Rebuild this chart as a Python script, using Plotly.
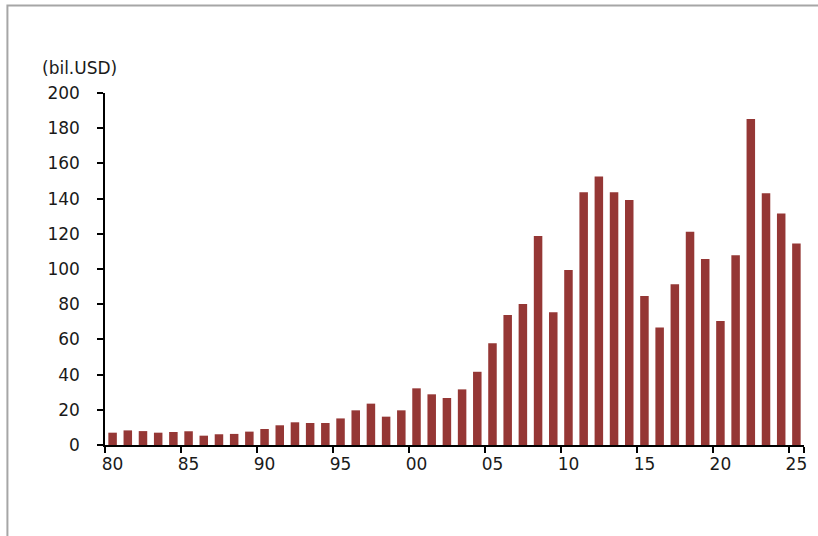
import plotly.graph_objects as go

years = ["80", "81", "82", "83", "84", "85", "86", "87", "88", "89",
         "90", "91", "92", "93", "94", "95", "96", "97", "98", "99",
         "00", "01", "02", "03", "04", "05", "06", "07", "08", "09",
         "10", "11", "12", "13", "14", "15", "16", "17", "18", "19",
         "20", "21", "22", "23", "24", "25"]
values = [7.0, 8.3, 7.9, 7.0, 7.4, 7.8, 5.3, 6.1, 6.3, 7.6,
          9.1, 11.2, 12.9, 12.5, 12.5, 15.1, 19.7, 23.5, 16.1, 19.7,
          32.2, 28.8, 26.7, 31.6, 41.6, 57.8, 73.9, 80.1, 118.8, 75.4,
          99.4, 143.6, 152.5, 143.6, 139.2, 84.7, 66.7, 91.3, 121.2, 105.7,
          70.5, 107.8, 185.2, 143.0, 131.6, 114.5]
tick_labels = ["80", "85", "90", "95", "00", "05", "10", "15", "20", "25"]
y_ticks = [0, 20, 40, 60, 80, 100, 120, 140, 160, 180, 200]
unit_label = "(bil.USD)"

bar_color = "#953735"
text_color = "#1a1a1a"
font_family = "DejaVu Sans, Arial, sans-serif"
font_size = 17

fig = go.Figure(go.Bar(x=years, y=values, marker=dict(color=bar_color, line=dict(width=0)),
                       hoverinfo="skip"))

fig.update_layout(
    width=818, height=536,
    margin=dict(l=105, r=11, t=93, b=91),
    paper_bgcolor="white", plot_bgcolor="white",
    bargap=0.44,
    showlegend=False,
    font=dict(family=font_family, size=font_size, color=text_color),
)
fig.update_xaxes(
    type="category",
    categoryorder="array", categoryarray=years,
    tickmode="array", tickvals=tick_labels, ticktext=tick_labels,
    tickson="boundaries", tickangle=0,
    ticks="outside", ticklen=6, tickwidth=1.5, tickcolor="black",
    showline=True, linecolor="black", linewidth=2,
    showgrid=False, zeroline=False,
    range=[-0.5, len(years) - 0.5],
    ticklabelstandoff=3,
    tickfont=dict(family=font_family, size=font_size, color=text_color),
)
fig.update_yaxes(
    range=[0, 200],
    tickmode="array", tickvals=y_ticks,
    ticks="outside", ticklen=6, tickwidth=1.5, tickcolor="black",
    showline=True, linecolor="black", linewidth=1.5,
    showgrid=False, zeroline=False,
    ticklabelstandoff=14,
    tickfont=dict(family=font_family, size=font_size, color=text_color),
)

fig.add_annotation(
    text=unit_label, xref="paper", yref="paper",
    x=(40 - 105) / 702, y=(444.5 - 68) / 351.5,
    xanchor="left", yanchor="middle", showarrow=False,
    font=dict(family=font_family, size=font_size, color=text_color),
)

fig.add_shape(
    type="rect", xref="paper", yref="paper",
    x0=(7 - 105) / 702, x1=1.5, y0=-1.0, y1=(444.5 - 5.5) / 351.5,
    line=dict(color="#a6a6a6", width=2), fillcolor="rgba(0,0,0,0)", layer="below",
)

fig.write_html(
    "out.html",
    config={"displayModeBar": False},
    post_script="document.body.style.margin='0';document.body.style.overflow='hidden';",
)
